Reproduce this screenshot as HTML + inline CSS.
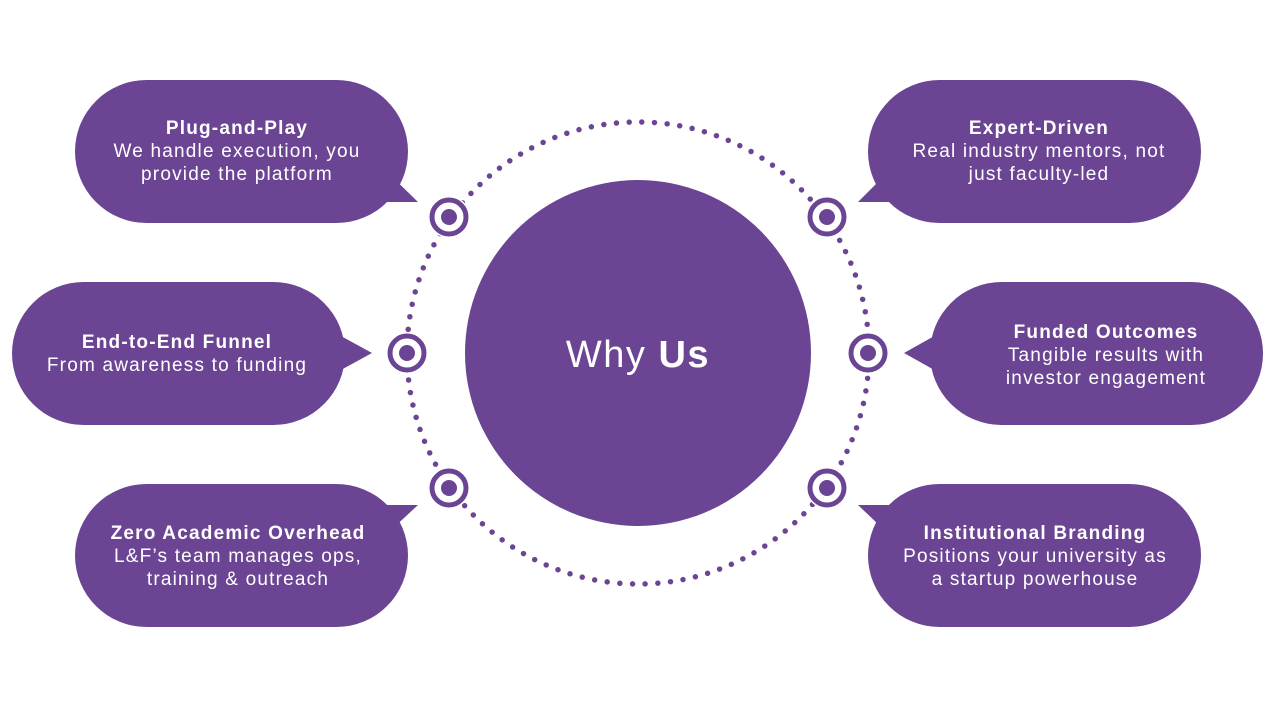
<!DOCTYPE html>
<html><head><meta charset="utf-8"><style>
html,body{margin:0;padding:0;background:#fff;}
svg{display:block;}
text{font-family:"Liberation Sans",sans-serif;fill:#fff;font-size:19px;letter-spacing:1.2px;text-anchor:middle;}
.b{font-weight:bold;}
</style></head><body>
<svg width="1277" height="708" viewBox="0 0 1277 708">
<g fill="#6b4593">
<rect x="75" y="80" width="333" height="143" rx="71.5"/>
<polygon points="375,160 418,202 375,202"/>
<rect x="12" y="282" width="333" height="143" rx="71.5"/>
<polygon points="330,330 372,353 330,376"/>
<rect x="75" y="484" width="333" height="143" rx="71.5"/>
<polygon points="375,505 418,505 375,545"/>
<rect x="868" y="80" width="333" height="143" rx="71.5"/>
<polygon points="900,160 858,202 900,202"/>
<rect x="930" y="282" width="333" height="143" rx="71.5"/>
<polygon points="945,330 904,353 945,376"/>
<rect x="868" y="484" width="333" height="143" rx="71.5"/>
<polygon points="900,505 858,505 900,545"/>
<circle cx="638" cy="353" r="173"/>
</g>
<circle cx="638" cy="353" r="231" fill="none" stroke="#6b4593" stroke-width="5.5" stroke-linecap="round" stroke-dasharray="0 12.7"/>
<g>
<g transform="translate(449,217)"><circle r="21" fill="#fff"/><circle r="17" fill="none" stroke="#6b4593" stroke-width="5"/><circle r="8" fill="#6b4593"/></g>
<g transform="translate(407,353)"><circle r="21" fill="#fff"/><circle r="17" fill="none" stroke="#6b4593" stroke-width="5"/><circle r="8" fill="#6b4593"/></g>
<g transform="translate(449,488)"><circle r="21" fill="#fff"/><circle r="17" fill="none" stroke="#6b4593" stroke-width="5"/><circle r="8" fill="#6b4593"/></g>
<g transform="translate(827,217)"><circle r="21" fill="#fff"/><circle r="17" fill="none" stroke="#6b4593" stroke-width="5"/><circle r="8" fill="#6b4593"/></g>
<g transform="translate(868,353)"><circle r="21" fill="#fff"/><circle r="17" fill="none" stroke="#6b4593" stroke-width="5"/><circle r="8" fill="#6b4593"/></g>
<g transform="translate(827,488)"><circle r="21" fill="#fff"/><circle r="17" fill="none" stroke="#6b4593" stroke-width="5"/><circle r="8" fill="#6b4593"/></g>
</g>
<text x="638" y="367" style="font-size:38px;letter-spacing:1.5px">Why <tspan class="b">Us</tspan></text>
<text class="b" x="237" y="134">Plug-and-Play</text>
<text x="237" y="157">We handle execution, you</text>
<text x="237" y="180">provide the platform</text>
<text class="b" x="177" y="348">End-to-End Funnel</text>
<text x="177" y="371">From awareness to funding</text>
<text class="b" x="238" y="539">Zero Academic Overhead</text>
<text x="238" y="562">L&amp;F’s team manages ops,</text>
<text x="238" y="585">training &amp; outreach</text>
<text class="b" x="1039" y="134">Expert-Driven</text>
<text x="1039" y="157">Real industry mentors, not</text>
<text x="1039" y="180">just faculty-led</text>
<text class="b" x="1106" y="338">Funded Outcomes</text>
<text x="1106" y="361">Tangible results with</text>
<text x="1106" y="384">investor engagement</text>
<text class="b" x="1035" y="539">Institutional Branding</text>
<text x="1035" y="562">Positions your university as</text>
<text x="1035" y="585">a startup powerhouse</text>
</svg>
</body></html>
